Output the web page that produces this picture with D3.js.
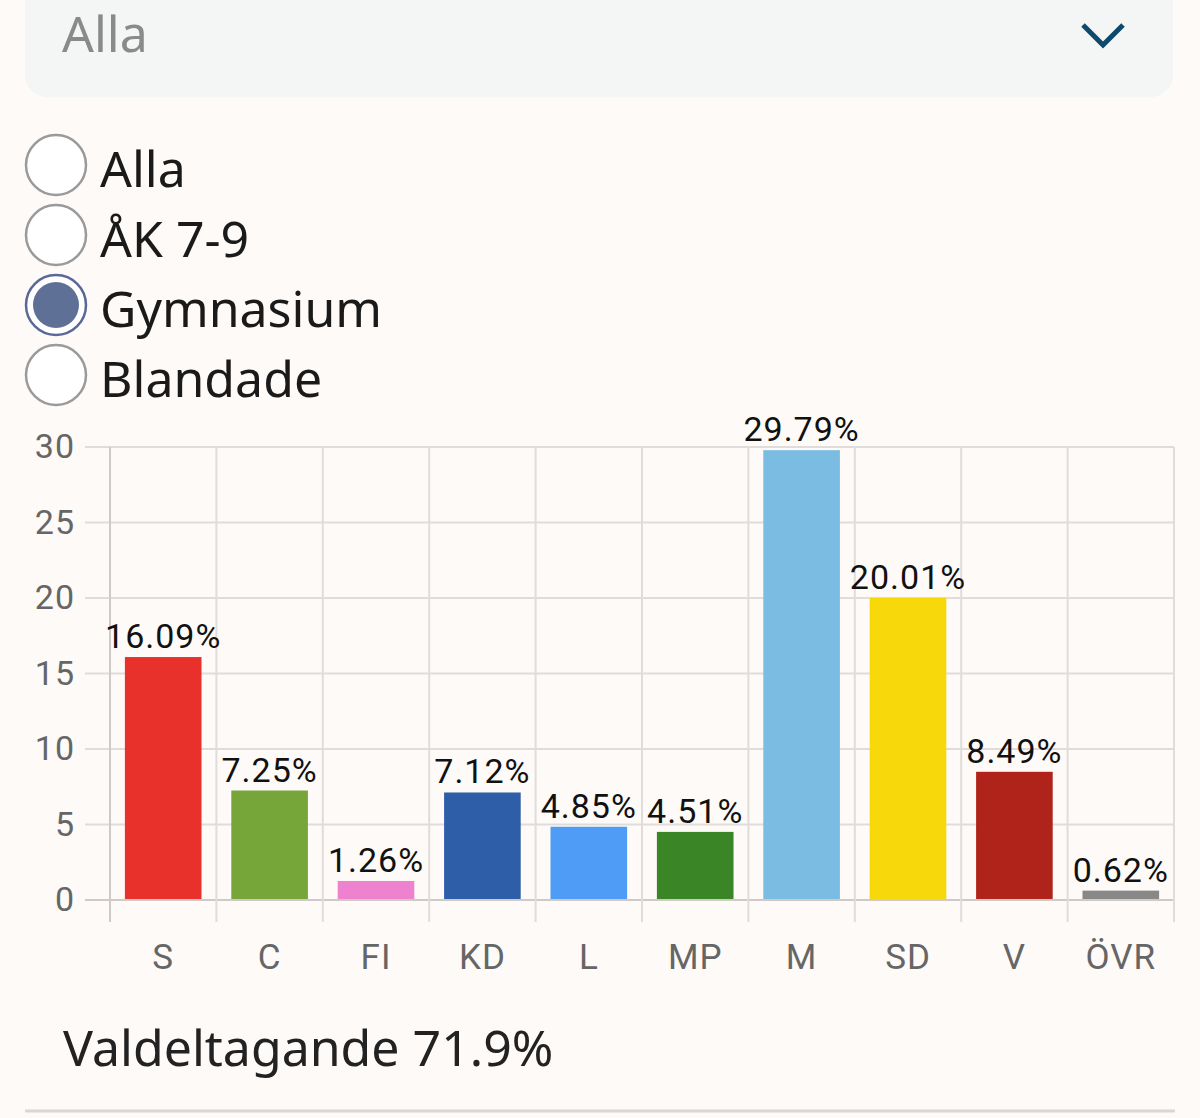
<!DOCTYPE html>
<html lang="sv">
<head>
<meta charset="utf-8">
<title>Gymnasium</title>
<style>
  html, body { margin: 0; padding: 0; background: #fdfaf7; }
  svg { display: block; }
  .grid line { stroke: #e0dcda; stroke-width: 2; }
  .tick-y text { fill: #666; font-family: Roboto, sans-serif; font-size: 34px; letter-spacing: 1px; }
  .tick-x text { fill: #666; font-family: Roboto, sans-serif; font-size: 35px; letter-spacing: 1px; }
  .val { fill: #111; font-family: Roboto, sans-serif; font-size: 34px; letter-spacing: 1px; }
  .ui { font-family: "Noto Sans", "Open Sans", sans-serif; }
</style>
</head>
<body>
<svg width="1200" height="1118"></svg>
<script src="https://d3js.org/d3.v7.min.js"></script>
<script>

var parties = ["S", "C", "FI", "KD", "L", "MP", "M", "SD", "V", "ÖVR"];
var shares = [16.09, 7.25, 1.26, 7.12, 4.85, 4.51, 29.79, 20.01, 8.49, 0.62];
var colors = ["#e8312a", "#76a53a", "#ee82cf", "#2e5ea8", "#4f9cf6", "#3a8526", "#7bbce2", "#f7d80a", "#b0231a", "#888888"];
var yTicks = [0, 5, 10, 15, 20, 25, 30];
var options = ["Alla", "ÅK 7-9", "Gymnasium", "Blandade"];
var selected = "Gymnasium";
var turnout = "Valdeltagande 71.9%";

var svg = d3.select("svg");

// dropdown
svg.append("rect")
    .attr("x", 25).attr("y", -40)
    .attr("width", 1148).attr("height", 137)
    .attr("rx", 22)
    .attr("fill", "#f4f5f5");
svg.append("text")
    .attr("class", "ui")
    .attr("x", 62).attr("y", 52)
    .attr("font-size", 50)
    .attr("fill", "#8a8a8a")
    .text("Alla");
svg.append("path")
    .attr("d", "M1083,25 L1103,45 L1123,25")
    .attr("fill", "none")
    .attr("stroke", "#0d4a6e")
    .attr("stroke-width", 5);

// radio buttons
var radio = svg.append("g").selectAll("g")
    .data(options)
    .enter().append("g")
      .attr("transform", function(d, i) { return "translate(56," + (165 + i * 70) + ")"; });

radio.append("circle")
    .attr("r", 30)
    .attr("fill", "#fff")
    .attr("stroke", function(d) { return d === selected ? "#5a6897" : "#9a9a9a"; })
    .attr("stroke-width", 2.5);
radio.filter(function(d) { return d === selected; })
  .append("circle")
    .attr("r", 23)
    .attr("fill", "#5f7096");
radio.append("text")
    .attr("class", "ui")
    .attr("x", 44).attr("y", 22)
    .attr("font-size", 50)
    .attr("fill", "#1a1a1a")
    .text(function(d) { return d; });

// chart
var x = d3.scaleBand().domain(parties).range([110, 1174]).paddingInner(0.28).paddingOuter(0.14),
    y = d3.scaleLinear().domain([0, 30]).range([900, 447]);

var step = x.step();
var grid = svg.append("g").attr("class", "grid");

grid.selectAll(".h")
    .data(yTicks)
    .enter().append("line")
      .attr("x1", 85).attr("x2", 1174)
      .attr("y1", function(d) { return y(d); })
      .attr("y2", function(d) { return y(d); })
      .style("stroke", function(d) { return d === 0 ? "#cfcac8" : null; });

grid.selectAll(".v")
    .data(d3.range(parties.length + 1))
    .enter().append("line")
      .attr("x1", function(i) { return 110 + i * step; })
      .attr("x2", function(i) { return 110 + i * step; })
      .attr("y1", y(30)).attr("y2", 922)
      .style("stroke", function(i) { return i === 0 ? "#cfcac8" : null; });

var yAxis = svg.append("g")
    .attr("class", "tick-y")
    .attr("transform", "translate(75,0)")
    .call(d3.axisLeft(y).tickValues(yTicks).tickSize(0).tickPadding(0));
yAxis.select(".domain").remove();

var xAxis = svg.append("g")
    .attr("class", "tick-x")
    .attr("transform", "translate(0,944)")
    .call(d3.axisBottom(x).tickSize(0).tickPadding(0));
xAxis.select(".domain").remove();
xAxis.selectAll("text").attr("dy", "0.71em");

svg.selectAll(".bar")
    .data(parties)
    .enter().append("rect")
      .attr("class", "bar")
      .attr("x", function(d) { return x(d); })
      .attr("y", function(d, i) { return y(shares[i]); })
      .attr("width", x.bandwidth())
      .attr("height", function(d, i) { return y(0) - y(shares[i]) - 1; })
      .attr("fill", function(d, i) { return colors[i]; });

svg.selectAll(".val")
    .data(parties)
    .enter().append("text")
      .attr("class", "val")
      .attr("x", function(d) { return x(d) + x.bandwidth() / 2; })
      .attr("y", function(d, i) { return y(shares[i]) - 9; })
      .attr("text-anchor", "middle")
      .text(function(d, i) { return shares[i].toFixed(2) + "%"; });

// footer
svg.append("text")
    .attr("class", "ui")
    .attr("x", 63).attr("y", 1066)
    .attr("font-size", 50)
    .attr("fill", "#222")
    .text(turnout);
svg.append("line")
    .attr("x1", 25).attr("x2", 1175)
    .attr("y1", 1111).attr("y2", 1111)
    .attr("stroke", "#d9d6d4")
    .attr("stroke-width", 3);

</script>
</body>
</html>
